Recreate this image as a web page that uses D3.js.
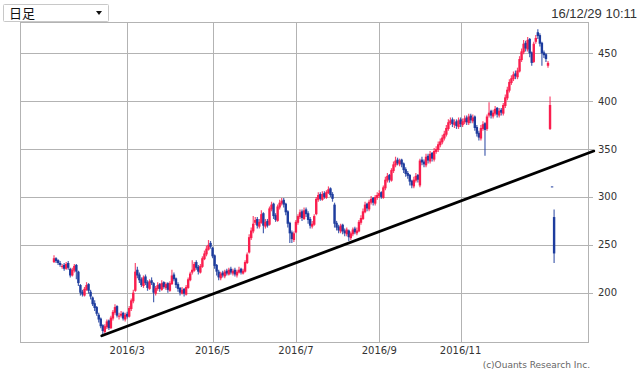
<!DOCTYPE html>
<html><head><meta charset="utf-8">
<script src="https://cdn.jsdelivr.net/npm/d3@7"></script>
<style>body{margin:0;background:#fff;}svg{display:block;}</style>
</head><body>
<script>
// ---------- data ----------
const openVals = [232,236,234,231,227,229,225,231,225,218,223,229,222,208,201,197,203,209,201,195,189,185,177,173,166,159,164,171,163,173,179,186,175,176,179,172,178,175,183,191,202,224,219,214,207,217,211,204,213,210,199,204,209,203,211,205,210,202,209,219,215,209,205,199,204,198,205,213,221,223,232,227,221,227,235,240,245,252,247,239,229,222,215,221,217,223,219,225,220,224,218,221,225,220,222,231,242,257,264,273,277,269,273,283,269,275,271,287,293,281,275,289,293,297,293,285,273,263,255,263,273,279,285,277,287,283,277,269,271,282,297,303,297,304,299,304,309,303,292,273,269,264,271,265,261,265,257,261,267,262,264,273,277,284,293,287,294,299,293,299,301,305,299,309,317,323,317,327,333,339,334,339,335,329,325,323,317,311,317,323,312,339,337,333,343,337,346,339,347,349,354,357,361,365,371,377,381,375,379,373,381,375,378,383,377,385,379,384,373,367,361,371,377,371,385,390,384,387,393,385,391,387,395,403,411,419,423,429,425,431,443,451,461,454,465,451,441,462,472,469,461,451,449,437];
const highVals = [239,237,235,233,230,231,232,233,226,226,230,230,223,209,203,206,211,210,203,196,192,186,179,174,167,167,172,172,176,182,188,187,179,181,180,179,180,186,194,203,231,227,221,216,218,219,213,214,216,211,207,211,210,213,212,211,211,212,224,221,216,211,206,206,205,208,216,222,234,232,234,229,230,238,244,249,255,254,248,240,230,224,222,223,224,225,226,227,225,226,224,227,226,225,234,242,261,268,280,279,279,277,286,284,277,277,290,295,294,283,292,297,299,299,294,286,274,265,264,276,282,287,287,289,289,285,279,275,282,300,305,305,306,306,307,311,310,305,294,275,271,272,272,267,268,266,264,268,269,268,276,281,288,295,294,297,301,300,302,305,307,306,312,321,325,324,330,337,342,341,340,340,336,331,327,324,318,321,325,324,340,342,339,345,345,348,347,351,353,358,361,365,369,375,381,383,383,381,381,383,383,382,385,385,387,387,386,385,375,369,375,379,378,386,399,391,391,395,394,393,393,398,407,415,423,427,431,432,435,447,455,464,463,467,466,452,462,469,475,471,462,453,450,442];
const lowVals = [231,231,229,227,225,223,224,224,216,217,221,214,207,197,196,196,202,199,193,186,181,176,169,163,156,157,162,161,162,171,177,174,172,174,171,170,173,174,181,189,201,215,210,206,205,208,202,203,208,190,197,202,201,202,204,203,200,201,208,212,205,201,197,198,196,197,204,212,219,222,224,219,220,226,234,238,244,246,236,225,218,213,213,216,215,218,218,219,218,217,216,220,219,219,221,230,241,255,262,271,267,267,272,262,267,268,270,285,277,274,274,287,291,289,281,268,252,252,253,262,271,277,275,276,279,272,267,267,270,281,295,296,296,298,298,303,300,295,268,265,262,262,261,259,259,254,255,259,261,260,263,271,276,283,285,285,292,291,291,297,299,298,298,307,315,315,316,325,331,333,332,331,325,321,319,312,309,309,315,315,310,333,331,331,335,335,337,337,345,347,352,355,359,363,369,375,373,372,371,371,373,373,376,375,375,377,377,369,363,359,359,369,343,369,383,382,382,385,383,383,385,385,393,401,409,417,421,423,423,430,441,449,452,452,446,437,440,460,465,457,437,445,441,435];
const closeVals = [236,233,231,229,228,225,230,226,218,224,228,222,210,200,198,204,208,202,196,188,184,178,172,165,160,165,170,163,174,180,185,176,176,178,173,177,175,184,192,200,222,218,213,208,216,210,205,212,210,200,205,208,204,210,206,209,203,210,218,214,208,204,200,203,199,206,214,220,224,230,226,222,228,236,241,246,250,248,238,228,222,216,220,218,222,220,224,221,223,219,222,224,221,223,232,240,258,265,272,276,270,274,282,270,274,270,288,292,280,276,290,294,296,292,284,272,262,256,262,274,280,284,278,286,282,276,270,272,280,298,302,298,303,300,305,308,302,298,272,268,265,270,264,262,266,258,262,266,263,265,274,278,285,292,288,295,298,294,300,302,304,300,310,318,322,318,328,334,338,335,338,334,328,324,322,316,312,318,322,318,338,336,334,342,338,345,340,348,350,355,358,362,366,372,378,380,376,378,374,380,376,379,382,378,384,380,383,372,366,362,372,376,370,384,388,385,388,392,386,390,388,396,404,412,420,424,428,426,432,444,452,460,455,464,450,440,460,466,468,460,450,448,444,440];

// stray marks drawn after the last candle
const extraIndex = [244, 245, 246];
const extraOpen  = [396, 311, 279];
const extraHigh  = [405, 311, 287];
const extraLow   = [370, 311, 231];
const extraClose = [371, 311, 241];
const extraUp    = [true, false, false];

// trend line (index, value)
const trendIdx = [23.5, 265.5];
const trendVal = [155, 348];

// axis ticks
const xTickIndex  = [36, 78, 119, 160, 200];
const xTickLabels = ["2016/3", "2016/5", "2016/7", "2016/9", "2016/11"];
const yTicks = [200, 250, 300, 350, 400, 450];

const periodLabel = "日足";
const stampLabel = "16/12/29 10:11";
const creditLabel = "(c)Ouants Research Inc.";

// ---------- layout ----------
const W = 640, H = 380;
const plot = {left: 20, right: 588, top: 22, bottom: 342};
const RED = "#fa1e4e", BLUE = "#1d3c9e";

const svg = d3.select("body").append("svg").attr("width", W).attr("height", H);

const x = d3.scaleLinear().domain([0, 243]).range([54, 548]);
const y = d3.scaleLinear().domain([200, 450]).range([292.7, 53.3]);

// grid
const g = svg.append("g").attr("shape-rendering", "crispEdges");
g.selectAll(".hg").data(yTicks).join("line")
  .attr("x1", plot.left).attr("x2", plot.right + 5)
  .attr("y1", d => Math.round(y(d)) + 0.5).attr("y2", d => Math.round(y(d)) + 0.5)
  .attr("stroke", "#b3b3b3");
g.selectAll(".vg").data(xTickIndex).join("line")
  .attr("x1", d => Math.round(x(d)) + 0.5).attr("x2", d => Math.round(x(d)) + 0.5)
  .attr("y1", plot.top).attr("y2", plot.bottom)
  .attr("stroke", "#b3b3b3");
g.append("rect")
  .attr("x", plot.left + 0.5).attr("y", plot.top + 0.5)
  .attr("width", plot.right - plot.left).attr("height", plot.bottom - plot.top)
  .attr("fill", "none").attr("stroke", "#b3b3b3");

// y labels
svg.selectAll(".yl").data(yTicks).join("text")
  .attr("x", 598).attr("y", d => y(d) + 3.5)
  .attr("font-family", "DejaVu Sans").attr("font-size", 10).attr("fill", "#333")
  .text(d => d);

// x labels
svg.selectAll(".xl").data(xTickIndex).join("text")
  .attr("x", d => x(d)).attr("y", 353.5).attr("text-anchor", "middle")
  .attr("font-family", "DejaVu Sans").attr("font-size", 10).attr("fill", "#333")
  .text((d, i) => xTickLabels[i]);

// candles
const candles = closeVals.map((c, i) => ({i, o: openVals[i], h: highVals[i], l: lowVals[i], c, up: c >= openVals[i]}));
extraIndex.forEach((idx, k) => candles.push({i: idx, o: extraOpen[k], h: extraHigh[k], l: extraLow[k], c: extraClose[k], up: extraUp[k]}));

const cg = svg.append("g");
cg.selectAll(".wick").data(candles).join("line")
  .attr("x1", d => x(d.i)).attr("x2", d => x(d.i))
  .attr("y1", d => y(d.h)).attr("y2", d => y(d.l))
  .attr("stroke", d => d.up ? RED : BLUE).attr("stroke-width", 1.2).attr("opacity", 0.8);
cg.selectAll(".body").data(candles).join("rect")
  .attr("x", d => x(d.i) - 1.2).attr("width", 2.4)
  .attr("y", d => y(Math.max(d.o, d.c)))
  .attr("height", d => Math.max(1, Math.abs(y(d.o) - y(d.c))))
  .attr("fill", d => d.up ? RED : BLUE);

// trend line
svg.append("line")
  .attr("x1", x(trendIdx[0])).attr("y1", y(trendVal[0]))
  .attr("x2", x(trendIdx[1])).attr("y2", y(trendVal[1]))
  .attr("stroke", "#000").attr("stroke-width", 2.8).attr("stroke-linecap", "round");

// dropdown
svg.append("rect").attr("x", 3.5).attr("y", 4.5).attr("width", 105).attr("height", 17)
  .attr("fill", "#fff").attr("stroke", "#c8c8c8").attr("rx", 1);
svg.append("text").attr("x", 9).attr("y", 18)
  .attr("font-family", "Noto Sans CJK JP").attr("font-size", 13).attr("fill", "#111")
  .text(periodLabel);
svg.append("path").attr("d", "M96,11 L102,11 L99,15 Z").attr("fill", "#111");

// time stamp
svg.append("text").attr("x", 637).attr("y", 18).attr("text-anchor", "end")
  .attr("font-family", "Liberation Sans").attr("font-size", 13).attr("fill", "#333")
  .text(stampLabel);

// credit
svg.append("text").attr("x", 590).attr("y", 368).attr("text-anchor", "end")
  .attr("font-family", "DejaVu Sans").attr("font-size", 9).attr("fill", "#666")
  .text(creditLabel);
</script>
</body></html>
